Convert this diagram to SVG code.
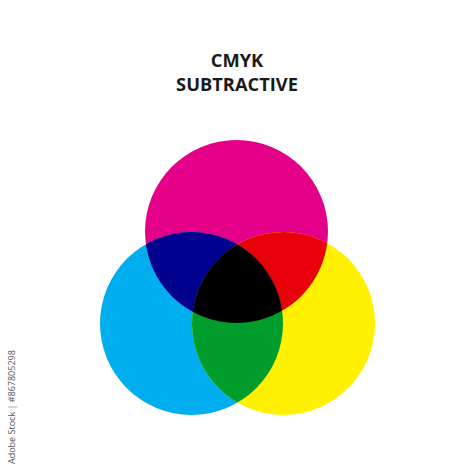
<svg xmlns="http://www.w3.org/2000/svg" width="474" height="474" viewBox="0 0 474 474">
<style>
.title{font-family:"Open Sans","Liberation Sans",sans-serif;font-weight:700;font-size:18.3px;fill:#1a1a1a;text-anchor:middle}
.id{font-family:"Open Sans","Liberation Sans",sans-serif;font-size:9px;fill:#555}
</style>
<defs>
<clipPath id="cM"><circle cx="236.5" cy="231.5" r="91.5"/></clipPath>
<clipPath id="cC"><circle cx="191.5" cy="323.5" r="91.5"/></clipPath>
<clipPath id="cY"><circle cx="283.5" cy="323.5" r="91.5"/></clipPath>
</defs>
<rect width="474" height="474" fill="#fff"/>
<text class="title" x="237" y="67">CMYK</text>
<text class="title" x="237" y="91">SUBTRACTIVE</text>
<g id="magenta"><circle cx="236.5" cy="231.5" r="91.5" fill="#E5008A"/></g>
<g id="cyan"><circle cx="191.5" cy="323.5" r="91.5" fill="#00AEEF"/></g>
<g id="yellow"><circle cx="283.5" cy="323.5" r="91.5" fill="#FFF100"/></g>
<g id="blue" clip-path="url(#cM)"><circle cx="191.5" cy="323.5" r="91.5" fill="#00008F"/></g>
<g id="red" clip-path="url(#cM)"><circle cx="283.5" cy="323.5" r="91.5" fill="#E8000B"/></g>
<g id="green" clip-path="url(#cC)"><circle cx="283.5" cy="323.5" r="91.5" fill="#009D2C"/></g>
<g id="black" clip-path="url(#cM)"><g clip-path="url(#cC)"><circle cx="283.5" cy="323.5" r="91.5" fill="#000"/></g></g>
<text class="id" transform="translate(15,464) rotate(-90)">Adobe Stock | #867805298</text>
</svg>
